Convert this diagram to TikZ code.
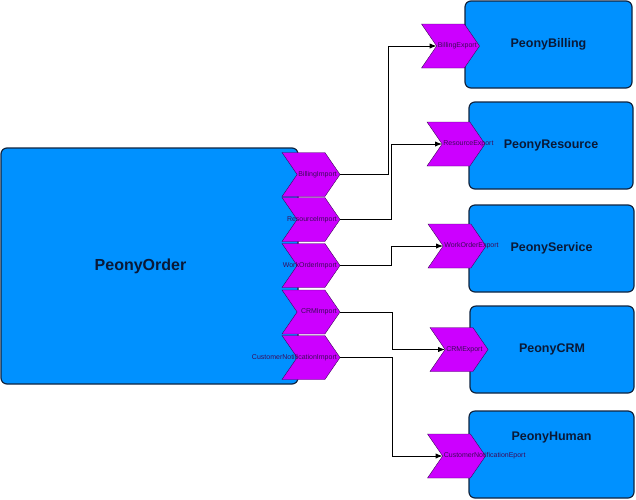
\documentclass[tikz,border=0pt]{standalone}
\usepackage{fontspec}
\setmainfont{Liberation Sans}
\usetikzlibrary{arrows.meta,calc,shapes.symbols}
\definecolor{compblue}{RGB}{0,145,255}
\definecolor{compline}{RGB}{16,36,64}
\definecolor{portfill}{RGB}{204,0,255}
\definecolor{portline}{RGB}{60,10,90}
\definecolor{titletext}{RGB}{10,25,55}

\begin{document}
\begin{tikzpicture}[x=1pt,y=-1pt,>=Latex,
  comp/.style={draw=compline,line width=1.2pt,fill=compblue,rounded corners=6pt,inner sep=0pt},
  ttl/.style={font=\bfseries\fontsize{12.5}{14}\selectfont,text=titletext},
  ttlbig/.style={font=\bfseries\fontsize{16}{18}\selectfont,text=titletext},
  port/.style={draw=portline,fill=portfill,shape=signal,signal from=west,signal to=east,
    signal pointer angle=111,minimum width=58pt,minimum height=44pt,inner sep=0pt,outer sep=0pt},
  plab/.style={font=\fontsize{7}{8}\selectfont,text=portline,inner sep=0pt},
  link/.style={->,line width=0.9pt}]
\useasboundingbox (0,0) rectangle (636,499);

% components
\node[comp,minimum width=297pt,minimum height=236pt,label={[ttlbig,xshift=-9pt]center:PeonyOrder}] (order) at (149.5,266) {};
\node[comp,minimum width=167pt,minimum height=87pt,ttl] (billing) at (548.5,44.5) {PeonyBilling};
\node[comp,minimum width=164pt,minimum height=87pt,ttl] (resource) at (551,145.5) {PeonyResource};
\node[comp,minimum width=165pt,minimum height=87pt,ttl] (service) at (551.5,248.5) {PeonyService};
\node[comp,minimum width=164pt,minimum height=87pt,ttl] (crm) at (552,349.5) {PeonyCRM};
\node[comp,minimum width=165pt,minimum height=87pt,label={[ttl,yshift=17pt]center:PeonyHuman}] (human) at (551.5,454.5) {};

% import ports
\node[port] (bimp) at (311,174.5) {};
\node[port] (rimp) at (311,219.5) {};
\node[port] (wimp) at (311,265.5) {};
\node[port] (cimp) at (311,312) {};
\node[port] (nimp) at (311,357.5) {};
\node[plab,anchor=east] at ([xshift=-3pt]bimp.east) {BillingImport};
\node[plab,anchor=east] at ([xshift=-3pt]rimp.east) {ResourceImport};
\node[plab,anchor=east] at ([xshift=-3pt]wimp.east) {WorkOrderImport};
\node[plab,anchor=east] at ([xshift=-3pt]cimp.east) {CRMImport};
\node[plab,anchor=east] at ([xshift=-3pt]nimp.east) {CustomerNotificationImport};

% export ports
\node[port] (bexp) at (450.5,46) {};
\node[port] (rexp) at (456,144) {};
\node[port] (wexp) at (457,246) {};
\node[port] (cexp) at (459,349.5) {};
\node[port] (nexp) at (456.5,456) {};
\node[plab,anchor=west] at ([xshift=1pt]bexp.west) {BillingExport};
\node[plab,anchor=west] at ([xshift=1pt]rexp.west) {ResourceExport};
\node[plab,anchor=west] at ([xshift=1pt]wexp.west) {WorkOrderExport};
\node[plab,anchor=west] at ([xshift=1pt]cexp.west) {CRMExport};
\node[plab,anchor=west] at ([xshift=1pt]nexp.west) {CustomerNotificationEport};

% links
\draw[link] (bimp.east) -- ++(48,0) |- (bexp.west);
\draw[link] (rimp.east) -- ++(51,0) |- (rexp.west);
\draw[link] (wimp.east) -- ++(51,0) |- (wexp.west);
\draw[link] (cimp.east) -- ++(52,0) |- (cexp.west);
\draw[link] (nimp.east) -- ++(52,0) |- (nexp.west);
\end{tikzpicture}
\end{document}
